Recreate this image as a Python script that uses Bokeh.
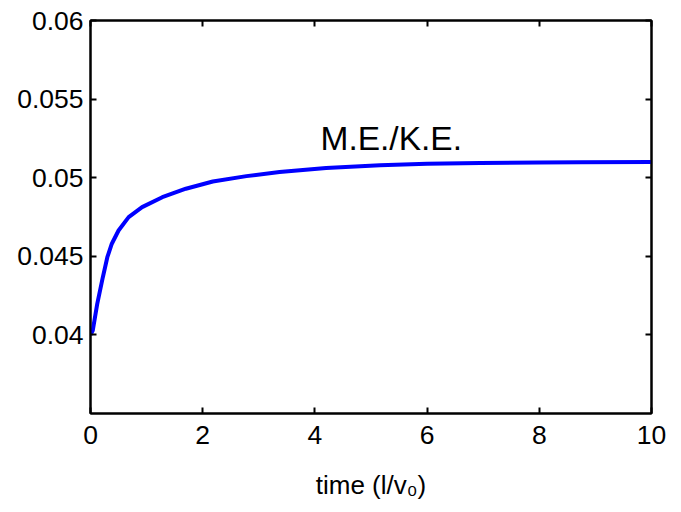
from bokeh.plotting import figure
from bokeh.models import Label, LinearAxis, FixedTicker, CustomJSTickFormatter, Range1d
from bokeh.embed import file_html
from bokeh.resources import INLINE

# data
time = [0.0, 0.04, 0.12, 0.22, 0.30, 0.38, 0.50, 0.68, 0.92, 1.28, 1.70,
        2.18, 2.78, 3.37, 4.2, 5.16, 6.0, 6.95, 8.0, 8.73, 10.0]
me_ke = [0.0400, 0.04027, 0.04197, 0.04367, 0.04494, 0.0458, 0.04664, 0.04749,
         0.04813, 0.04876, 0.0493, 0.04976, 0.0501, 0.05036, 0.05062, 0.05079,
         0.05088, 0.05094, 0.05097, 0.05098, 0.0510]
x_ticks = [0, 2, 4, 6, 8, 10]
y_ticks = [0.04, 0.045, 0.05, 0.055, 0.06]
annotation = "M.E./K.E."
xlabel = "time (l/v\u2080)"

FONT = "Liberation Sans"

p = figure(width=675, height=510, output_backend="svg", toolbar_location=None,
           x_range=Range1d(0, 10), y_range=Range1d(0.035, 0.06),
           min_border_left=90, min_border_right=24, min_border_top=20,
           min_border_bottom=97, x_axis_location=None, y_axis_location=None)
p.xgrid.visible = False
p.ygrid.visible = False
p.outline_line_color = "black"
p.outline_line_width = 2
p.background_fill_color = "white"
p.border_fill_color = "white"

yfmt = CustomJSTickFormatter(code="return tick.toFixed(3).replace(/0+$/, '');")
blank = CustomJSTickFormatter(code="return '';")

def style(ax, labels=True):
    ax.axis_line_color = "black"
    ax.axis_line_width = 2
    ax.major_tick_line_color = "black"
    ax.major_tick_line_width = 2
    ax.major_tick_in = 6
    ax.major_tick_out = 0
    ax.minor_tick_line_color = None
    ax.major_label_text_font = FONT
    ax.major_label_text_font_size = "26.5px" if labels else "0px"
    ax.major_label_text_color = "black"

bottom = LinearAxis(ticker=FixedTicker(ticks=x_ticks), axis_label=xlabel)
style(bottom)
bottom.major_label_standoff = 12
bottom.axis_label_text_font = FONT
bottom.axis_label_text_font_size = "26px"
bottom.axis_label_text_font_style = "normal"
bottom.axis_label_text_color = "black"
bottom.axis_label_standoff = 23
top = LinearAxis(ticker=FixedTicker(ticks=x_ticks), formatter=blank)
style(top, False)
left = LinearAxis(ticker=FixedTicker(ticks=y_ticks), formatter=yfmt)
style(left)
left.major_label_standoff = 7
right = LinearAxis(ticker=FixedTicker(ticks=y_ticks), formatter=blank)
style(right, False)
p.add_layout(bottom, "below")
p.add_layout(top, "above")
p.add_layout(left, "left")
p.add_layout(right, "right")

p.line(time, me_ke, line_color="#0000ff", line_width=4)

p.add_layout(Label(x=4.1, y=0.05252, text=annotation, text_font=FONT,
                   text_font_size="33.5px", text_color="black",
                   text_baseline="alphabetic", text_align="left"))

open("out.html", "w").write(file_html(p, INLINE))
